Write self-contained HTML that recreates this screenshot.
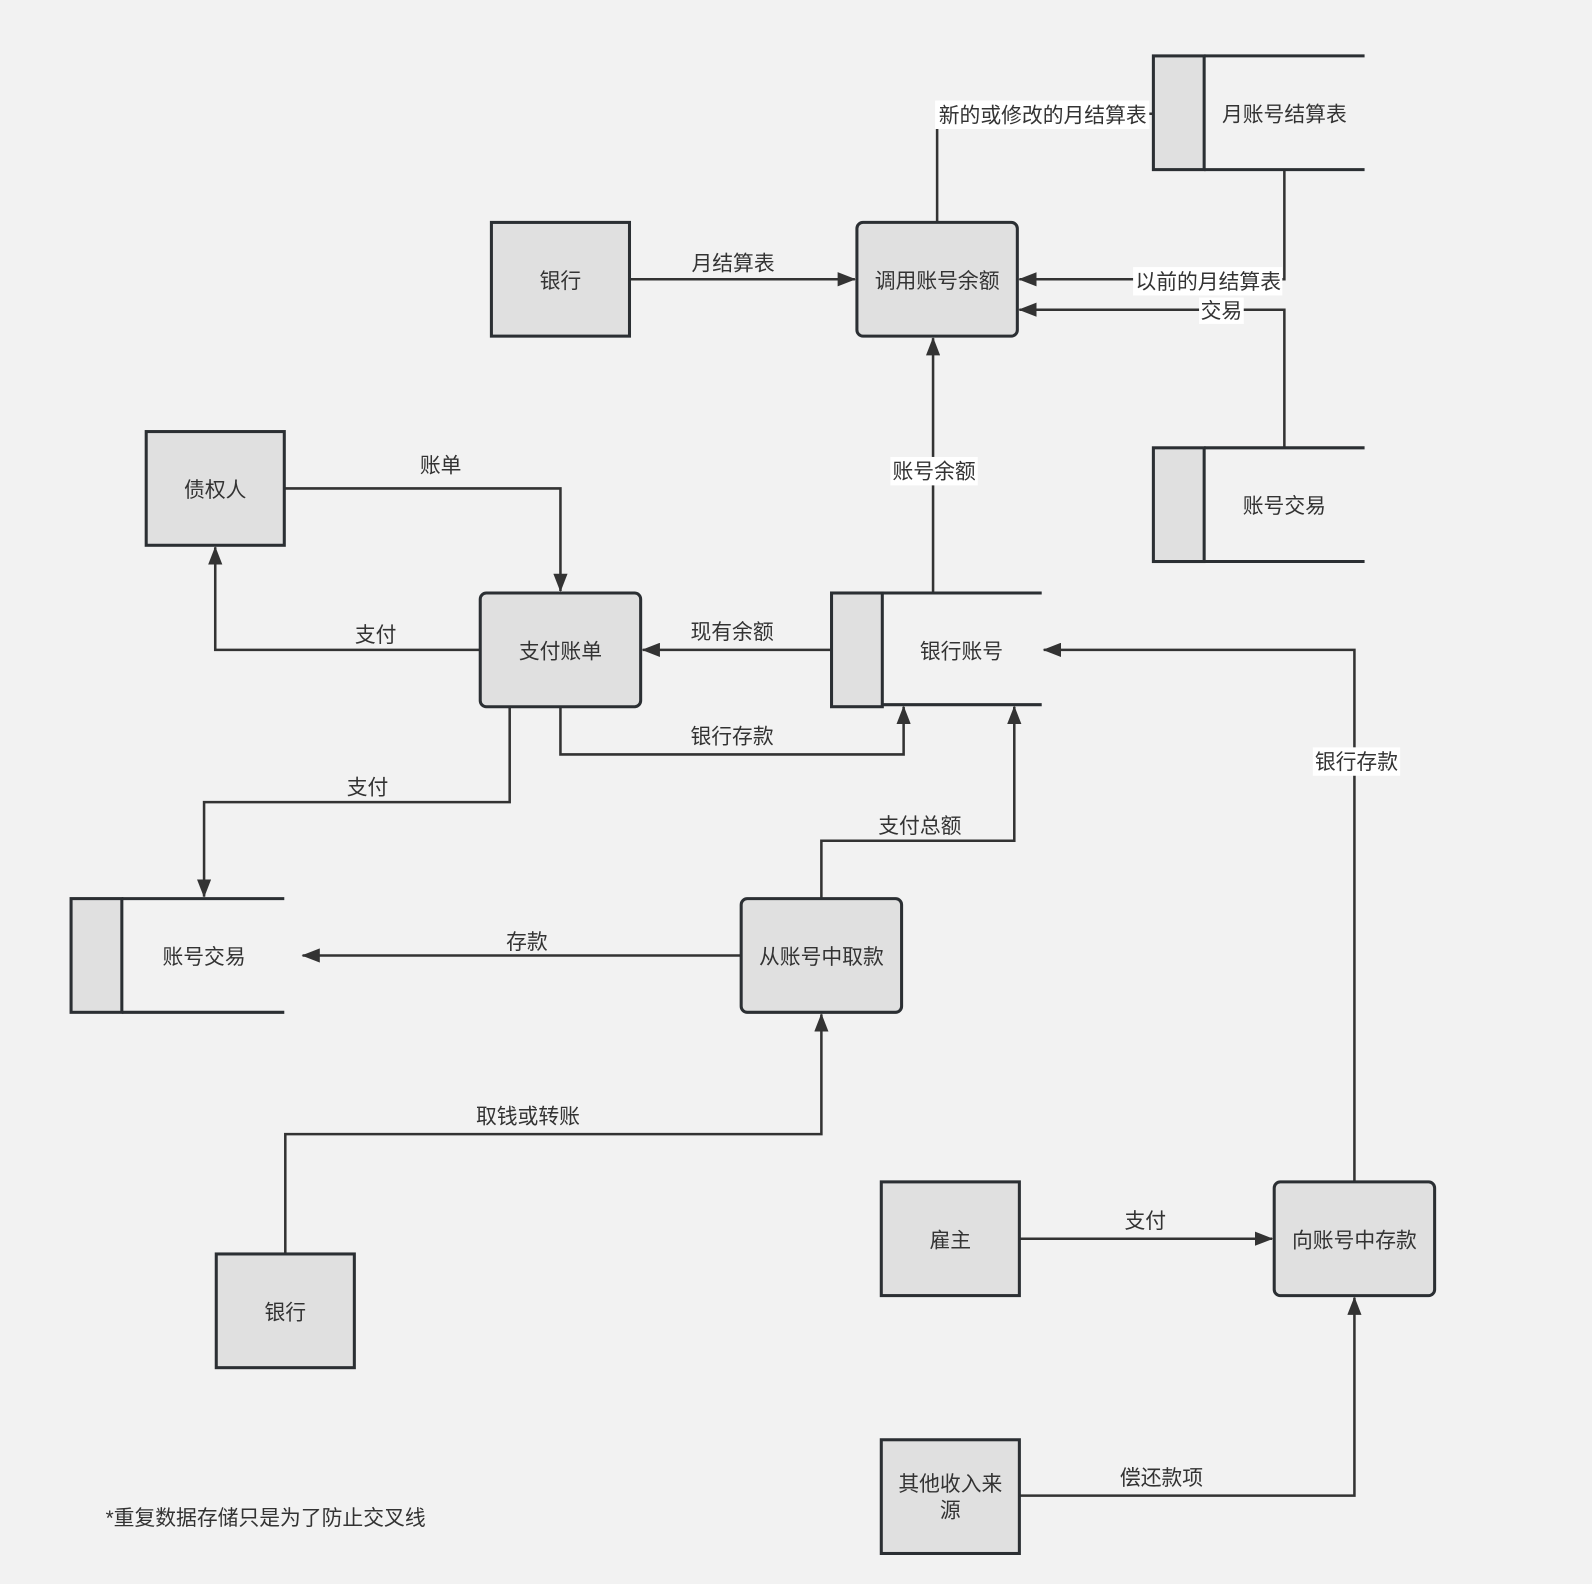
<!DOCTYPE html>
<html><head><meta charset="utf-8"><style>
html,body{margin:0;padding:0;background:#f2f2f2;}
svg{display:block}
text{font-family:"Liberation Sans","Noto Sans CJK SC",sans-serif;font-size:20.5px;fill:#333;}
</style></head><body>
<svg width="1592" height="1584" viewBox="0 0 1568 1560" xmlns="http://www.w3.org/2000/svg">
<defs>
<marker id="b" markerWidth="18" markerHeight="14" refX="17" refY="7" orient="auto" markerUnits="userSpaceOnUse"><path d="M0,0 L18,7 L0,14 z" fill="#333"/></marker></defs>
<rect width="1568" height="1560" fill="#f2f2f2"/>
<g fill="none" stroke="#333" stroke-width="2.5">
<path d="M620,275 H842" marker-end="url(#b)"/>
<path d="M923,219 V112 H1136"/>
<path d="M1265,167 V275 H1004" marker-end="url(#b)"/>
<path d="M1265,441 V305 H1004" marker-end="url(#b)"/>
<path d="M919,584 V333" marker-end="url(#b)"/>
<path d="M280,481 H552 V582" marker-end="url(#b)"/>
<path d="M473,640 H212 V539" marker-end="url(#b)"/>
<path d="M819,640 H633" marker-end="url(#b)"/>
<path d="M552,696 V743 H890 V696" marker-end="url(#b)"/>
<path d="M502,696 V790 H201 V883" marker-end="url(#b)"/>
<path d="M809,885 V828 H999 V696" marker-end="url(#b)"/>
<path d="M730,941 H298" marker-end="url(#b)"/>
<path d="M281,1235 V1117 H809 V999" marker-end="url(#b)"/>
<path d="M1004,1220 H1253" marker-end="url(#b)"/>
<path d="M1004,1473 H1334 V1278" marker-end="url(#b)"/>
<path d="M1334,1164 V640 H1028" marker-end="url(#b)"/>
</g>
<g fill="#e0e0e0" stroke="#2b2f33" stroke-width="3">
<rect x="484" y="219" width="136" height="112"/>
<rect x="844" y="219" width="158" height="112" rx="6"/>
<rect x="144" y="425" width="136" height="112"/>
<rect x="473" y="584" width="158" height="112" rx="6"/>
<rect x="730" y="885" width="158" height="112" rx="6"/>
<rect x="213" y="1235" width="136" height="112"/>
<rect x="868" y="1164" width="136" height="112"/>
<rect x="1255" y="1164" width="158" height="112" rx="6"/>
<rect x="868" y="1418" width="136" height="112"/>
<rect x="1136" y="55" width="50" height="112"/>
<rect x="1136" y="441" width="50" height="112"/>
<rect x="819" y="584" width="50" height="112"/>
<rect x="70" y="885" width="50" height="112"/>
</g>
<g stroke="#2b2f33" stroke-width="3">
<path d="M1186,55 H1344 M1186,167 H1344"/>
<path d="M1186,441 H1344 M1186,553 H1344"/>
<path d="M869,584 H1026 M869,694 H1026"/>
<path d="M120,885 H280 M120,997 H280"/>
</g>
<g fill="#fff">
<rect x="921" y="99" width="211" height="28"/>
<rect x="1116" y="263" width="147" height="28"/>
<rect x="1181" y="293" width="44" height="26"/>
<rect x="877" y="450" width="86" height="28"/>
<rect x="1293" y="736" width="86" height="28"/>
</g>
<g text-anchor="middle" dominant-baseline="central">
<text x="552" y="277">银行</text>
<text x="923" y="277">调用账号余额</text>
<text x="1265" y="113">月账号结算表</text>
<text x="1265" y="499">账号交易</text>
<text x="212" y="483">债权人</text>
<text x="552" y="642">支付账单</text>
<text x="947" y="642">银行账号</text>
<text x="201" y="943">账号交易</text>
<text x="809" y="943">从账号中取款</text>
<text x="281" y="1293">银行</text>
<text x="936" y="1222">雇主</text>
<text x="1334" y="1222">向账号中存款</text>
<text x="936" y="1462">其他收入来</text>
<text x="936" y="1488">源</text>
<text x="722" y="260">月结算表</text>
<text x="1027" y="114">新的或修改的月结算表</text>
<text x="1190" y="278">以前的月结算表</text>
<text x="1203" y="307">交易</text>
<text x="920" y="465">账号余额</text>
<text x="434" y="459">账单</text>
<text x="370" y="626">支付</text>
<text x="721" y="623">现有余额</text>
<text x="721" y="726">银行存款</text>
<text x="362" y="776">支付</text>
<text x="906" y="814">支付总额</text>
<text x="519" y="928">存款</text>
<text x="520" y="1100">取钱或转账</text>
<text x="1128" y="1203">支付</text>
<text x="1144" y="1456">偿还款项</text>
<text x="1336" y="751">银行存款</text>
</g>
<text x="104" y="1502">*重复数据存储只是为了防止交叉线</text>
</svg>
</body></html>
